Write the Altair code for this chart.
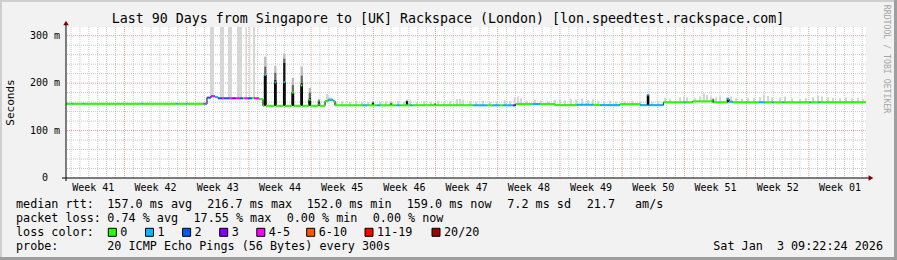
import altair as alt
import pandas as pd

FONT = "DejaVu Sans Mono"
W, H = 800, 151
LEFT, TOP = 66, 27
X_DOMAIN = [0, 90]
Y_DOMAIN = [0, 318.4]

# ---------------- data (days since start of the 90-day window, ms) ----------------
med_start = [0.00, 0.62, 0.74, 1.97, 2.09, 8.49, 8.61, 12.43, 12.55, 13.55, 13.67, 15.50, 15.70,
             15.86, 16.31, 16.76, 17.10, 17.55, 17.78, 18.34, 18.68, 19.13, 19.58, 19.91, 20.03,
             20.48, 20.93, 21.15, 21.71, 22.16, 22.31, 22.50, 23.46, 23.64, 24.46, 24.65, 25.42,
             25.62, 26.42, 26.60, 27.32, 27.52, 28.38, 28.55, 29.14, 29.48, 30.04, 30.26, 33.40,
             33.86, 35.00, 35.30, 37.20, 37.60, 38.70, 39.00, 45.80, 47.40, 48.00, 48.80, 49.20,
             50.30, 50.60, 52.50, 53.30, 55.00, 57.50, 59.30, 60.10, 62.30, 64.60, 65.40, 65.55,
             67.20, 69.55, 69.70, 70.50, 72.70, 72.85, 74.40, 74.60, 75.00, 78.00, 78.60, 79.45,
             79.60, 80.65, 80.80, 83.65, 83.80, 84.65, 84.80]
med_ms = [156.6, 156.6, 156.6, 156.6, 156.6, 156.6, 156.6, 156.6, 156.6, 156.6, 156.6, 156.6, 156.0,
          169.5, 172.5, 170.5, 168.0, 168.0, 168.0, 168.0, 168.0, 168.0, 168.0, 168.0, 168.0,
          168.0, 168.0, 168.0, 166.0, 152.3, 217.0, 152.3, 201.5, 152.3, 202.0, 152.3, 180.0,
          152.3, 195.0, 152.3, 165.0, 152.3, 155.0, 152.3, 162.0, 165.0, 162.0, 153.2, 153.2,
          153.2, 153.2, 153.2, 153.2, 153.2, 153.2, 153.2, 153.2, 153.2, 153.2, 153.2, 153.2,
          153.2, 156.0, 156.0, 156.0, 153.5, 154.5, 154.0, 153.5, 155.5, 153.5, 174.5, 153.5,
          159.5, 159.5, 159.5, 161.5, 163.0, 159.5, 166.0, 161.0, 159.5, 159.5, 159.5, 159.5,
          159.5, 159.5, 159.5, 159.5, 159.5, 159.5, 159.5]
med_loss = ["0", "1", "0", "1", "0", "1", "0", "1", "0", "1", "0", "4-5", "1",
            "2", "4-5", "1", "2", "4-5", "2", "4-5", "3", "4-5", "2", "0", "4-5",
            "2", "0", "4-5", "0", "0", "1", "0", "1", "0", "1", "0", "0",
            "0", "0", "0", "0", "0", "0", "0", "0", "1", "0", "0", "1",
            "0", "1", "0", "1", "0", "1", "0", "1", "0", "1", "0", "1",
            "3", "0", "1", "0", "0", "1", "0", "1", "0", "1", "1", "1",
            "0", "1", "0", "0", "0", "0", "1", "1", "0", "1", "0", "1",
            "0", "1", "0", "1", "0", "1", "0"]

loss_labels = ["0", "1", "2", "3", "4-5", "6-10", "11-19", "20/20"]
loss_colors = ["#26ff00", "#00b8ff", "#0059ff", "#7e00ff", "#ff00ff", "#ff5500", "#ff0000", "#a00000"]

# tall light smoke columns (loss periods in week 43)
tall_start = [16.20, 17.33, 18.23, 19.24, 20.19, 20.62, 21.04]
tall_end = [16.65, 17.78, 18.68, 19.80, 20.36, 20.74, 21.26]
tall_lo = [169.5, 168.0, 168.0, 168.0, 168.0, 168.0, 168.0]

# dark smoke spikes
spike_day = [22.42, 23.55, 24.56, 25.52, 26.52, 27.43, 28.46, 34.54, 36.56, 38.36, 41.51, 65.48, 72.79, 74.48]
spike_base = [152.3, 152.3, 152.3, 152.3, 152.3, 152.3, 152.3, 153.2, 153.2, 153.2, 153.2, 153.5, 159.5, 159.5]
spike_dark = [218, 207, 243, 182, 200, 169, 160, 158, 156, 162, 156, 175, 165, 166]
spike_mid = [235, 222, 252, 196, 216, 180, 164, 160, 158, 163, 157, 176, 166, 168]
spike_top = [256, 236, 262, 211, 235, 190, 167, 162, 160, 165, 158, 177, 168, 170]

# faint smoke columns
smoke_day = [29.36, 29.59, 29.81, 30.38, 31.05, 31.95, 32.63, 33.30, 33.98, 34.54, 35.33, 36.00, 36.68,
             37.35, 38.03, 38.70, 39.49, 40.28, 41.06, 41.85, 42.53, 43.20, 43.99, 44.33, 44.66, 45.45,
             46.13, 46.91, 47.70, 48.49, 49.39, 49.95, 50.51, 50.85, 51.19, 51.86, 52.76, 53.44, 54.23,
             55.01, 55.58, 56.14, 56.81, 57.38, 58.05, 58.73, 59.29, 59.85, 60.53, 61.20, 61.88, 62.89,
             63.68, 64.58, 65.93, 66.60, 67.39, 67.95, 69.08, 69.53, 69.86, 70.76, 71.33, 71.78, 72.11,
             72.56, 73.13, 73.58, 74.36, 74.81, 75.38, 76.05, 76.73, 77.40, 78.08, 78.53, 78.98, 79.43,
             80.33, 80.89, 81.68, 82.58, 83.25, 84.04, 84.60, 85.05, 85.73, 86.29, 87.08, 87.75, 88.43,
             89.10, 89.66]
smoke_top = [177, 172, 170, 160, 162, 160, 163, 161, 160, 163, 161, 162, 160,
             163, 161, 164, 160, 162, 161, 163, 160, 162, 166, 167, 165, 162,
             161, 163, 161, 162, 164, 162, 170, 172, 168, 163, 165, 163, 162,
             165, 166, 164, 167, 165, 167, 164, 166, 163, 162, 163, 161, 162,
             163, 162, 161, 163, 169, 166, 170, 172, 170, 168, 172, 178, 175,
             172, 170, 172, 170, 172, 168, 167, 169, 168, 171, 176, 173, 170,
             170, 172, 168, 167, 168, 171, 173, 172, 170, 169, 168, 170, 168,
             169, 167]

week_labels = ["Week 41", "Week 42", "Week 43", "Week 44", "Week 45", "Week 46", "Week 47",
               "Week 48", "Week 49", "Week 50", "Week 51", "Week 52", "Week 01"]
week_mid = [3.07, 10.07, 17.07, 24.07, 31.07, 38.07, 45.07, 52.07, 59.07, 66.07, 73.07, 80.07, 87.07]
week_bounds = [6.57, 13.57, 20.57, 27.57, 34.57, 41.57, 48.57, 55.57, 62.57, 69.57, 76.57, 83.57]
day_minor = [0.57 + i for i in range(90) if all(abs(0.57 + i - b) > 0.01 for b in week_bounds)]
y_major = [100, 200, 300]
y_major_labels = ["100 m", "200 m", "300 m"]
y_minor = [20, 40, 60, 80, 120, 140, 160, 180, 220, 240, 260, 280]

# ---------------- helpers ----------------
xs = alt.Scale(domain=X_DOMAIN, nice=False, zero=False)
ys = alt.Scale(domain=Y_DOMAIN, nice=False, zero=False)


def med_at(d):
    v = med_ms[0]
    for s, m in zip(med_start, med_ms):
        if s <= d:
            v = m
    return v


def T(s, x, y, size=11.75, align="left", color="#000000", angle=0):
    return alt.Chart(alt.Data(values=[{}])).mark_text(
        text=s, font=FONT, fontSize=size, align=align, baseline="middle",
        color=color, angle=angle
    ).encode(x=alt.value(x - LEFT), y=alt.value(y - TOP))


def R(x0, x1, y0, y1, color):
    return alt.Chart(alt.Data(values=[{}])).mark_rect(color=color).encode(
        x=alt.value(x0 - LEFT), x2=alt.value(x1 - LEFT),
        y=alt.value(y0 - TOP), y2=alt.value(y1 - TOP))


med_end = med_start[1:] + [X_DOMAIN[1]]
df_med = pd.DataFrame({"x0": med_start, "x1": med_end, "ms": med_ms, "loss": med_loss})
df_step = pd.DataFrame({"x": med_start + [X_DOMAIN[1]], "ms": med_ms + [med_ms[-1]]})
df_tall = pd.DataFrame({"x0": tall_start, "x1": tall_end, "lo": tall_lo})
SPW = 0.13
df_spike = pd.DataFrame({"x0": [d - SPW for d in spike_day], "x1": [d + SPW for d in spike_day],
                         "base": spike_base, "dark": spike_dark, "mid": spike_mid, "top": spike_top})
SMW = 0.11
df_smoke = pd.DataFrame({"x0": [d - SMW for d in smoke_day], "x1": [d + SMW for d in smoke_day],
                         "lo": [med_at(d) for d in smoke_day], "hi": smoke_top})

X = lambda f: alt.X(f, type="quantitative", scale=xs, axis=None)
Y = lambda f: alt.Y(f, type="quantitative", scale=ys, axis=None)

layers = []

# grid
layers.append(alt.Chart(pd.DataFrame({"d": day_minor})).mark_rule(
    color="#c8c8c8", strokeWidth=1, strokeDash=[1, 1]).encode(x=X("d")))
layers.append(alt.Chart(pd.DataFrame({"v": y_minor})).mark_rule(
    color="#c8c8c8", strokeWidth=1, strokeDash=[1, 1]).encode(y=Y("v")))
layers.append(alt.Chart(pd.DataFrame({"d": week_bounds})).mark_rule(
    color="#eb9a9a", strokeWidth=1, strokeDash=[1, 1]).encode(x=X("d")))
layers.append(alt.Chart(pd.DataFrame({"v": y_major})).mark_rule(
    color="#eb9a9a", strokeWidth=1, strokeDash=[1, 1]).encode(y=Y("v")))

# smoke
layers.append(alt.Chart(df_tall).mark_rect(color="#d6d6d6").encode(
    x=X("x0"), x2="x1", y=Y("lo"), y2=alt.value(0)))
layers.append(alt.Chart(df_smoke).mark_rect(color="#d4d4d4").encode(
    x=X("x0"), x2="x1", y=Y("lo"), y2="hi"))
layers.append(alt.Chart(df_spike).mark_rect(color="#bdbdbd").encode(
    x=X("x0"), x2="x1", y=Y("mid"), y2="top"))
layers.append(alt.Chart(df_spike).mark_rect(color="#6a6a6a").encode(
    x=X("x0"), x2="x1", y=Y("dark"), y2="mid"))
layers.append(alt.Chart(df_spike).mark_rect(color="#141414").encode(
    x=X("x0"), x2="x1", y=Y("base"), y2="dark"))

# median
layers.append(alt.Chart(df_step).mark_line(interpolate="step-after", color="#000000", strokeWidth=1).encode(
    x=X("x"), y=Y("ms")))
layers.append(alt.Chart(df_med).mark_rule(strokeWidth=2).encode(
    x=X("x0"), x2="x1", y=Y("ms"),
    color=alt.Color("loss:N", scale=alt.Scale(domain=loss_labels, range=loss_colors), legend=None)))

# axes
layers.append(alt.Chart(alt.Data(values=[{}])).mark_rule(color="#000000", strokeWidth=1).encode(
    x=alt.value(-4), x2=alt.value(W + 3), y=alt.value(H)))
layers.append(alt.Chart(alt.Data(values=[{}])).mark_rule(color="#000000", strokeWidth=1).encode(
    x=alt.value(0), y=alt.value(-3), y2=alt.value(H + 3)))
layers.append(alt.Chart(alt.Data(values=[{}])).mark_point(
    shape="triangle-right", filled=True, color="#7f0000", size=30, opacity=1).encode(
    x=alt.value(W + 5), y=alt.value(H)))
layers.append(alt.Chart(alt.Data(values=[{}])).mark_point(
    shape="triangle-up", filled=True, color="#7f0000", size=30, opacity=1).encode(
    x=alt.value(0), y=alt.value(-4)))

# axis labels
layers.append(alt.Chart(pd.DataFrame({"v": y_major, "t": y_major_labels})).mark_text(
    font=FONT, fontSize=10, align="right", baseline="middle").encode(
    y=Y("v"), x=alt.value(-6), text="t:N"))
layers.append(alt.Chart(pd.DataFrame({"v": [0], "t": ["0"]})).mark_text(
    font=FONT, fontSize=10, align="right", baseline="middle").encode(
    y=Y("v"), x=alt.value(-18), text="t:N"))
layers.append(alt.Chart(pd.DataFrame({"d": week_mid, "t": week_labels})).mark_text(
    font=FONT, fontSize=10, align="center", baseline="middle").encode(
    x=X("d"), y=alt.value(187.5 - TOP), text="t:N"))

# titles
layers.append(T("Last 90 Days from Singapore to [UK] Rackspace (London) [lon.speedtest.rackspace.com]",
                448, 18.5, size=13.3, align="center"))
layers.append(T("Seconds", 11, 102.5, size=11, align="center", angle=270))
layers.append(T("RRDTOOL / TOBI OETIKER", 886, 59, size=8.2, align="center", color="#a6a6a6", angle=90))

# legend rows
r1, r2, r3, r4 = 204.3, 218.3, 232.3, 246.3
for s, x in [("median rtt:", 16), ("157.0 ms avg", 107.3), ("216.7 ms max", 207.3),
             ("152.0 ms min", 306.7), ("159.0 ms now", 406.7), ("7.2 ms sd", 507.3),
             ("21.7", 586.7), ("am/s", 635)]:
    layers.append(T(s, x, r1))
for s, x in [("packet loss:", 16), ("0.74 % avg", 107.3), ("17.55 % max", 193.5),
             ("0.00 % min", 286.7), ("0.00 % now", 372.7)]:
    layers.append(T(s, x, r2))
layers.append(T("loss color:", 16, r3))
box_x = [108.3, 145.5, 182.6, 219.7, 256.8, 306.7, 365.0, 432.0]
for bx, lab, col in zip(box_x, loss_labels, loss_colors):
    layers.append(alt.Chart(alt.Data(values=[{}])).mark_rect(
        color=col, stroke="#000000", strokeWidth=1).encode(
        x=alt.value(bx - LEFT), x2=alt.value(bx + 8 - LEFT),
        y=alt.value(228.3 - TOP), y2=alt.value(236.3 - TOP)))
    layers.append(T(lab, bx + 12, r3))
for s, x in [("probe:", 16), ("20 ICMP Echo Pings (56 Bytes) every 300s", 107.3),
             ("Sat Jan", 713.3), ("3 09:22:24 2026", 776.9)]:
    layers.append(T(s, x, r4))

# frame shading
layers.append(R(0, 897, 0, 2, "#cfcfcf"))
layers.append(R(0, 2, 0, 260, "#cfcfcf"))
layers.append(R(0, 897, 257, 260, "#9e9e9e"))
layers.append(R(894, 897, 0, 260, "#9e9e9e"))

chart = alt.layer(*layers).properties(
    width=W, height=H,
    autosize=alt.AutoSizeParams(type="none"),
    padding={"left": LEFT, "top": TOP, "right": 897 - LEFT - W, "bottom": 260 - TOP - H},
).configure(background="#f2f2f2").configure_view(stroke=None, fill="#ffffff")

chart.save("out.html", embed_options={"renderer": "svg", "actions": False})
